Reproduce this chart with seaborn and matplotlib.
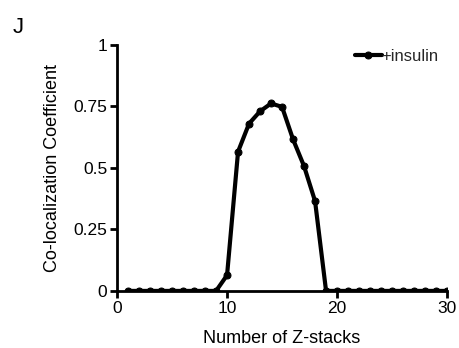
import matplotlib
matplotlib.use("Agg")
import matplotlib.pyplot as plt
import pandas as pd
import seaborn as sns

# data
z_stacks = list(range(1, 31))
coefficient = [0, 0, 0, 0, 0, 0, 0, 0, 0, 0.064,
               0.566, 0.68, 0.73, 0.762, 0.748, 0.616, 0.507, 0.365, 0, 0,
               0, 0, 0, 0, 0, 0, 0, 0, 0, 0]
y_ticks = [0, 0.25, 0.5, 0.75, 1]
y_tick_labels = ["0", "0.25", "0.5", "0.75", "1"]
x_ticks = [0, 10, 20, 30]

sns.set_theme(style="ticks")
plt.rcParams["font.family"] = ["Liberation Sans", "DejaVu Sans"]

df = pd.DataFrame({"z": z_stacks, "coef": coefficient, "group": "+insulin"})

fig = plt.figure(figsize=(4.59, 3.48), dpi=100)
ax = fig.add_axes([0.255, 0.164, 0.719, 0.707])

sns.lineplot(data=df, x="z", y="coef", hue="group", palette=["black"],
             marker="o", markersize=5, linewidth=3, markeredgecolor="black",
             ax=ax)

ax.set_xlim(0, 30)
ax.set_ylim(0, 1)
ax.set_xticks(x_ticks)
ax.set_yticks(y_ticks)
ax.set_yticklabels(y_tick_labels)
ax.tick_params(axis="both", labelsize=12.5, width=2, length=5, color="black",
               labelcolor="black", pad=2)
ax.set_xlabel("Number of Z-stacks", fontsize=13, color="black", labelpad=10)
ax.set_ylabel("Co-localization Coefficient", fontsize=13, color="black",
              labelpad=9)
for side in ["left", "bottom"]:
    ax.spines[side].set_linewidth(2)
    ax.spines[side].set_color("black")
sns.despine(ax=ax)
for sp in ax.spines.values():
    sp.set_clip_on(False)

leg = ax.legend(loc="upper right", frameon=False, fontsize=12,
                handlelength=1.6, handletextpad=0.0, borderaxespad=0.0,
                bbox_to_anchor=(0.995, 1.01))

fig.text(0.028, 0.905, "J", fontsize=16, color="black")

fig.savefig("out.png", dpi=100)
plt.close(fig)
